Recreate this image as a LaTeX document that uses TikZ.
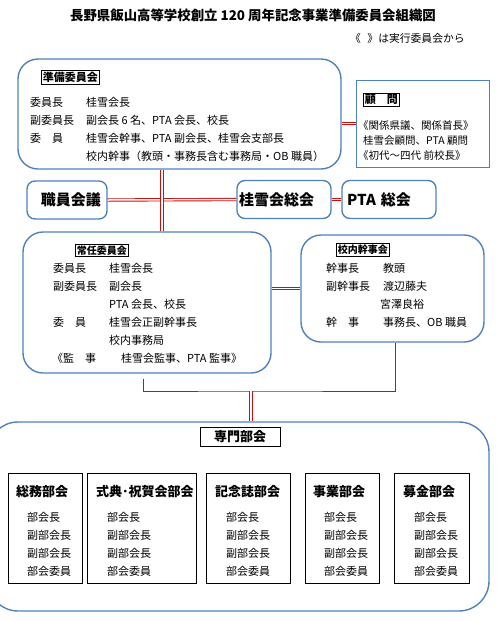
\documentclass[tikz,border=0pt]{standalone}
\usepackage{fontspec}
\setmainfont{Noto Sans CJK JP}
\usetikzlibrary{positioning}
\definecolor{boxblue}{RGB}{79,129,189}
\definecolor{linkred}{RGB}{200,16,16}

\begin{document}
\begin{tikzpicture}[x=1pt,y=-1pt,
 every node/.style={font=\fontsize{11}{13}\selectfont,inner sep=0pt},
 group/.style={draw=boxblue,line width=1.4pt,rounded corners=20pt},
 hall/.style={draw=boxblue,line width=1.4pt,rounded corners=8pt,minimum height=38pt,
  font=\fontsize{15}{18}\selectfont\bfseries},
 tag/.style={draw,line width=0.8pt,inner sep=1.5pt,font=\fontsize{11}{13}\selectfont\bfseries},
 sub/.style={draw,line width=1pt,minimum height=110pt},
 subttl/.style={font=\fontsize{13}{15}\selectfont\bfseries},
 link/.style={draw=linkred,double=white,line width=0.9pt,double distance=1.5pt},
 wire/.style={draw=linkred,line width=1pt}]
\useasboundingbox (0,0) rectangle (499,622);
\node[font=\fontsize{13.4}{16}\selectfont\bfseries] (title) at (253,15)
 {長野県飯山高等学校創立 120 周年記念事業準備委員会組織図};
\node[anchor=west,font=\fontsize{10.8}{13}\selectfont] (note) at (350,38)
 {《\hspace{0.6em}》は実行委員会から};
% 準備委員会
\node[group,minimum width=323pt,minimum height=110pt] (junbi) at (179.5,114) {};
\node[tag,anchor=west] (junbit) at (41,77.5) {準備委員会};
\node[anchor=west] (j1a) at (30,102) {委員長};
\node[anchor=west] (j1b) at (86,102) {桂雪会長};
\node[anchor=west] (j2a) at (30,120) {副委員長};
\node[anchor=west] (j2b) at (86,120) {副会長 6 名、PTA 会長、校長};
\node[anchor=west] (j3a) at (30,138) {委　員};
\node[anchor=west] (j3b) at (86,138) {桂雪会幹事、PTA 副会長、桂雪会支部長};
\node[anchor=west] (j4b) at (86,156) {校内幹事（教頭・事務長含む事務局・OB 職員）};
% 顧問
\node[draw=boxblue,line width=1pt,minimum width=133pt,minimum height=87pt] (komon) at (422.5,123.5) {};
\node[tag,anchor=west] (komont) at (363,100) {顧　問};
\node[anchor=west,font=\fontsize{10.5}{13}\selectfont] (k1) at (358,126) {《関係県議、関係首長》};
\node[anchor=west,font=\fontsize{10.5}{13}\selectfont] (k2) at (363,141) {桂雪会顧問、PTA 顧問};
\node[anchor=west,font=\fontsize{10.5}{13}\selectfont] (k3) at (358,156) {《初代～四代 前校長》};
% 会議
\node[hall,minimum width=80pt,text width=68pt,inner xsep=6pt,align=right] (shokuin) at (67,200) {職員会議};
\node[hall,minimum width=94pt,text width=90pt,inner xsep=2pt,align=left] (keisetsu) at (284,199.5) {桂雪会総会};
\node[hall,minimum width=94pt,text width=84pt,inner xsep=5pt,align=left] (pta) at (389,199.5) {PTA 総会};
% 常任委員会
\node[group,minimum width=248pt,minimum height=141pt] (jonin) at (147,302.5) {};
\node[tag,anchor=west,font=\fontsize{10}{12}\selectfont\bfseries] (jonint) at (75,250.5) {常任委員会};
\node[anchor=west] (n1a) at (53,268) {委員長};
\node[anchor=west] (n1b) at (109,268) {桂雪会長};
\node[anchor=west] (n2a) at (53,286) {副委員長};
\node[anchor=west] (n2b) at (109,286) {副会長};
\node[anchor=west] (n3b) at (109,304) {PTA 会長、校長};
\node[anchor=west] (n4a) at (53,322) {委　員};
\node[anchor=west] (n4b) at (109,322) {桂雪会正副幹事長};
\node[anchor=west] (n5b) at (109,340) {校内事務局};
\node[anchor=west] (n6a) at (52,358) {《監　事};
\node[anchor=west] (n6b) at (121,358) {桂雪会監事、PTA 監事》};
% 校内幹事会
\node[group,minimum width=183pt,minimum height=107pt] (kannai) at (392.5,288.5) {};
\node[tag,anchor=west,font=\fontsize{10}{12}\selectfont\bfseries] (kannait) at (336,250) {校内幹事会};
\node[anchor=west] (s1a) at (326,268) {幹事長};
\node[anchor=west] (s1b) at (383,268) {教頭};
\node[anchor=west] (s2a) at (326,286) {副幹事長};
\node[anchor=west] (s2b) at (383,286) {渡辺藤夫};
\node[anchor=west] (s3b) at (380,304) {宮澤良裕};
\node[anchor=west] (s4a) at (326,322) {幹　事};
\node[anchor=west] (s4b) at (383,322) {事務長、OB 職員};
% 専門部会
\node[group,rounded corners=30pt,minimum width=501pt,minimum height=189pt] (senmon) at (238.5,516.5) {};
\node[draw,line width=0.8pt,minimum width=80pt,minimum height=19pt,
 font=\fontsize{13}{15}\selectfont\bfseries] (senmont) at (240,436.5) {専門部会};
\foreach \i/\cx/\bw/\tx/\mx/\ttl in {1/45/74/16/27/総務部会,2/141.5/109/96/107/式典･祝賀会部会,
 3/248/84/215/226/記念誌部会,4/342/74/313/324/事業部会,5/431.5/75/403/414/募金部会}{
 \node[sub,minimum width=\bw pt] (bu\i) at (\cx,528) {};
 \node[subttl,anchor=west] (bu\i-t) at (\tx,492) {\ttl};
 \foreach \m/\yy in {部会長/517,副部会長/535,副部会長/553,部会委員/571}
  \node[anchor=west] (bu\i-\yy) at (\mx,\yy) {\m};
}
% connectors
\draw[link] (komon.west) -- (komon.west -| junbi.east);
\draw[link] (shokuin.east) -- (keisetsu.west);
\draw[link] (keisetsu.east) -- (pta.west);
\draw[link] ([xshift=-17.5pt]junbi.south) -- ([xshift=-17.5pt]junbi.south |- jonin.north);
\draw[link] (kannai.west) -- (kannai.west -| jonin.east);
\coordinate (hub) at (251,391);
\draw[wire] ([xshift=-4pt,yshift=-5pt]jonin.south) |- (hub) -| ([xshift=2.5pt]kannai.south);
\draw[link] (hub) -- (hub |- senmon.north);
\end{tikzpicture}
\end{document}
